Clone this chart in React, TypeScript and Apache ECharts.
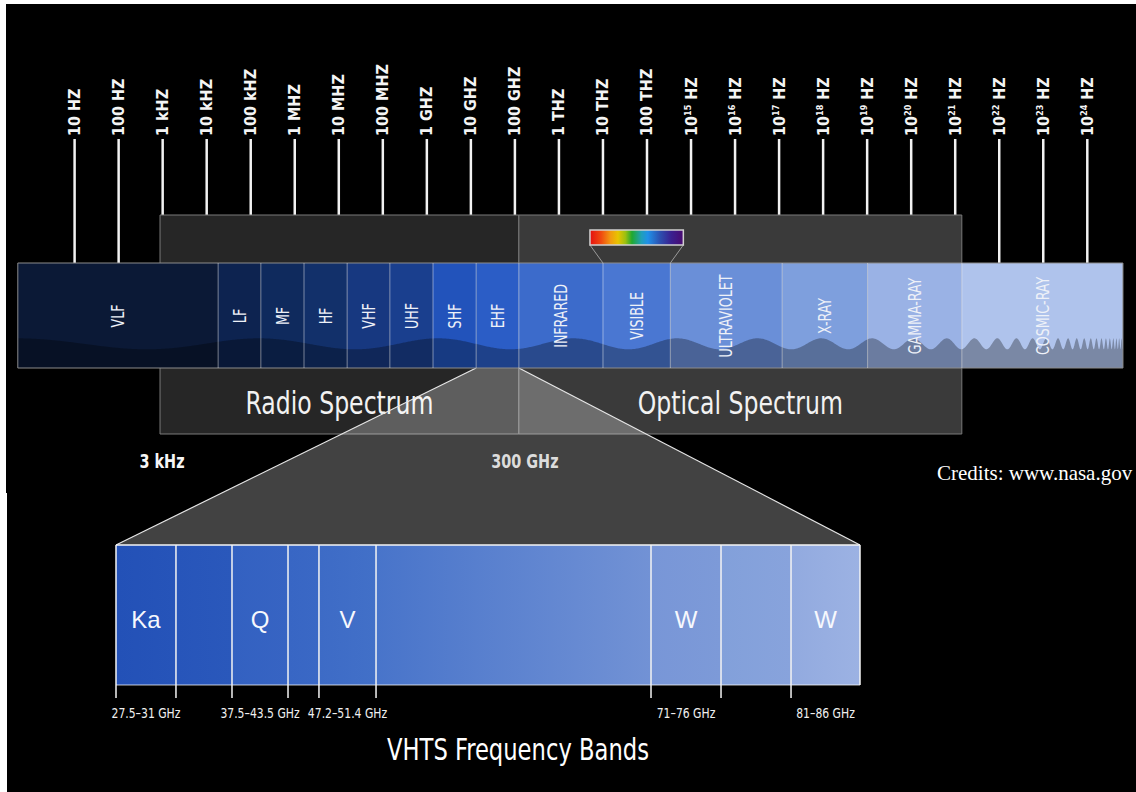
import React, { useEffect, useRef } from 'react';
import * as echarts from 'echarts';

// ---------------- data ----------------
// top frequency scale, positions in log10(Hz)
const tickValues = [1, 2, 3, 4, 5, 6, 7, 8, 9, 10, 11, 12, 13, 14, 15, 16, 17, 18, 19, 20, 21, 22, 23, 24];
const tickLabels = [
  '10 HZ', '100 HZ', '1 kHZ', '10 kHZ', '100 kHZ', '1 MHZ', '10 MHZ', '100 MHZ',
  '1 GHZ', '10 GHZ', '100 GHZ', '1 THZ', '10 THZ', '100 THZ',
  '10{sup|15} HZ', '10{sup|16} HZ', '10{sup|17} HZ', '10{sup|18} HZ', '10{sup|19} HZ',
  '10{sup|20} HZ', '10{sup|21} HZ', '10{sup|22} HZ', '10{sup|23} HZ', '10{sup|24} HZ',
];
// spectrum bands (edges on the same log10(Hz) scale, as drawn in the picture)
const bandNames = ['VLF', 'LF', 'MF', 'HF', 'VHF', 'UHF', 'SHF', 'EHF', 'INFRARED', 'VISIBLE', 'ULTRAVIOLET', 'X-RAY', 'GAMMA-RAY', 'COSMIC-RAY'];
const bandEdges = [-0.29, 4.26, 5.23, 6.21, 7.19, 8.16, 9.14, 10.12, 11.09, 13.0, 14.53, 17.07, 19.01, 21.15, 24.81];
// spectrum groups
const spectrumNames = ['Radio Spectrum', 'Optical Spectrum'];
const spectrumEdges = [2.94, 11.09, 21.15];
const spectrumEdgeLabels = ['3 kHz', '300 GHz'];
const zoomedBand = 'EHF';
const visibleBand = 'VISIBLE';
// VHTS bands (edges on a schematic 0-100 scale of the zoom panel)
const vhtsNames = ['Ka', '', 'Q', '', 'V', '', 'W', '', 'W'];
const vhtsRanges = ['27.5–31 GHz', '', '37.5–43.5 GHz', '', '47.2–51.4 GHz', '', '71–76 GHz', '', '81–86 GHz'];
const vhtsEdges = [0, 8.06, 15.59, 23.12, 27.28, 34.95, 71.91, 81.32, 90.73, 100];
const titleText = 'VHTS Frequency Bands';
const creditsText = 'Credits: www.nasa.gov';

// ---------------- styles / layout ----------------
const W = 1136;
const H = 792;
const NARROW = '"Liberation Sans Narrow", "DejaVu Sans Condensed", "Arial Narrow", sans-serif';
const BAND_COLORS = ['#0b1936', '#0d2350', '#0f2a5d', '#12306a', '#173880', '#1a3f8e', '#2253bb', '#2b5dc6', '#3c6bcb', '#4a77d2', '#6a8fd8', '#7e9fdd', '#9ab2e5', '#afc3ec'];
const BOX_COLORS = ['#262626', '#3a3a3a'];
const VHTS_COLORS = [
  ['#2351b7', '#2654b9'], ['#2755ba', '#2a58bb'], ['#3361c1', '#3764c3'], ['#3866c4', '#3a68c5'],
  ['#3d6bc6', '#4270c8'], ['#4874ca', '#7292d5'], ['#7896d7', '#7d9ad8'], ['#82a0da', '#88a3dc'], ['#92aadf', '#9cb2e3'],
];
const TOP_GRID = { left: 74.6, top: 263, width: 1012.7, height: 105 };
const VHTS_GRID = { left: 116, top: 545, width: 744, height: 140 };

function txt(x: number, y: number, text: string, font: string, fill: string, extra: any = {}) {
  return {
    type: 'text', x, y, ...extra,
    style: { text, font, fill, align: 'center', verticalAlign: 'middle', textAlign: 'center', textVerticalAlign: 'middle' },
  };
}

function buildOption(): any {
  const bandData = bandNames.map((_, i) => [bandEdges[i], bandEdges[i + 1], i]);
  const zi = bandNames.indexOf(zoomedBand);
  const vi = bandNames.indexOf(visibleBand);

  const series: any[] = [
    // frequency tick lines
    {
      type: 'custom', xAxisIndex: 0, yAxisIndex: 0, z: 0, encode: { x: 0 },
      data: tickValues.map((v) => [v]),
      renderItem: (params: any, api: any) => {
        const [x, top] = api.coord([api.value(0), 1]);
        return { type: 'line', shape: { x1: x, y1: top - 124, x2: x, y2: top }, style: { stroke: '#f2f2f2', lineWidth: 2.5 } };
      },
    },
    // spectrum boxes
    {
      type: 'custom', xAxisIndex: 0, yAxisIndex: 0, z: 1, encode: { x: [0, 1] },
      data: spectrumNames.map((_, i) => [spectrumEdges[i], spectrumEdges[i + 1], i]),
      renderItem: (params: any, api: any) => {
        const i = api.value(2);
        const [x0, top] = api.coord([api.value(0), 1]);
        const [x1, bottom] = api.coord([api.value(1), 0]);
        return {
          type: 'group',
          children: [
            { type: 'rect', shape: { x: x0, y: top - 48, width: x1 - x0, height: bottom - top + 114 }, style: { fill: BOX_COLORS[i], stroke: '#7a7a7a', lineWidth: 1 } },
            txt((x0 + x1) / 2, bottom + 35, spectrumNames[i], `32px ${NARROW}`, '#f2f2f2', { scaleX: 0.82 }),
          ],
        };
      },
    },
    // zoom trapezoid
    {
      type: 'custom', xAxisIndex: 0, yAxisIndex: 0, z: 3, encode: { x: [0, 1] },
      data: [[bandEdges[zi], bandEdges[zi + 1]]],
      renderItem: (params: any, api: any) => {
        const [x0, y0] = api.coord([api.value(0), 0]);
        const [x1] = api.coord([api.value(1), 0]);
        const L = VHTS_GRID.left, R = VHTS_GRID.left + VHTS_GRID.width, T = VHTS_GRID.top;
        return {
          type: 'group',
          children: [
            { type: 'polygon', shape: { points: [[x0, y0], [x1, y0], [R, T], [L, T]] }, style: { fill: 'rgba(255,255,255,0.26)' } },
            { type: 'line', shape: { x1: x0, y1: y0, x2: L, y2: T }, style: { stroke: '#e6e6e6', lineWidth: 1.2 } },
            { type: 'line', shape: { x1: x1, y1: y0, x2: R, y2: T }, style: { stroke: '#e6e6e6', lineWidth: 1.2 } },
          ],
        };
      },
    },
    // edge labels of radio spectrum
    {
      type: 'custom', xAxisIndex: 0, yAxisIndex: 0, z: 6, encode: { x: 0 },
      data: spectrumEdgeLabels.map((_, i) => [spectrumEdges[i], i]),
      renderItem: (params: any, api: any) => {
        const i = api.value(1);
        const [x, bottom] = api.coord([api.value(0), 0]);
        return txt(x + (i === 0 ? 2 : 6), bottom + 93, spectrumEdgeLabels[i], `bold 20px ${NARROW}`, i === 0 ? '#f6f6f6' : '#dcdcdc', { scaleX: 0.8 });
      },
    },
    // band rectangles
    {
      type: 'custom', xAxisIndex: 0, yAxisIndex: 0, z: 4, encode: { x: [0, 1] },
      data: bandData,
      renderItem: (params: any, api: any) => {
        const i = api.value(2);
        const [x0, top] = api.coord([api.value(0), 1]);
        const [x1, bottom] = api.coord([api.value(1), 0]);
        return { type: 'rect', shape: { x: x0, y: top, width: x1 - x0, height: bottom - top }, style: { fill: BAND_COLORS[i] } };
      },
    },
    // wave overlay + frame
    {
      type: 'custom', xAxisIndex: 0, yAxisIndex: 0, z: 5, encode: { x: [0, 1] },
      data: [[bandEdges[0], bandEdges[bandEdges.length - 1]]],
      renderItem: (params: any, api: any) => {
        const [x0, top] = api.coord([api.value(0), 1]);
        const [x1, bottom] = api.coord([api.value(1), 0]);
        const cy = top + 80.8, A = 5.5, R = x1 + 27;
        const K = 691;
        const ref = K * Math.pow(R - (x1 - 446), -0.3);
        const pts: number[][] = [];
        let x = x0;
        while (x <= x1) {
          const ph = K * Math.pow(R - x, -0.3) - ref;
          pts.push([x, cy - A * Math.cos(ph)]);
          x += x1 - x < 120 ? 0.25 : 1;
        }
        pts.push([x1, cy - A * Math.cos(K * Math.pow(R - x1, -0.3) - ref)]);
        pts.push([x1, bottom], [x0, bottom]);
        return {
          type: 'group',
          children: [
            { type: 'polygon', shape: { points: pts }, style: { fill: 'rgba(0,0,0,0.3)' } },
            { type: 'rect', shape: { x: x0, y: top, width: x1 - x0, height: bottom - top }, style: { fill: 'none', stroke: '#8c8c8c', lineWidth: 1 } },
          ],
        };
      },
    },
    // band separators + labels
    {
      type: 'custom', xAxisIndex: 0, yAxisIndex: 0, z: 6, encode: { x: [0, 1] },
      data: bandData,
      renderItem: (params: any, api: any) => {
        const i = api.value(2);
        const [x0, top] = api.coord([api.value(0), 1]);
        const [x1, bottom] = api.coord([api.value(1), 0]);
        const children: any[] = [];
        if (i > 0) children.push({ type: 'line', shape: { x1: x0, y1: top, x2: x0, y2: bottom }, style: { stroke: 'rgba(255,255,255,0.45)', lineWidth: 1 } });
        children.push(txt((x0 + x1) / 2, top + 53, bandNames[i], `18px ${NARROW}`, '#eef1f8', { rotation: Math.PI / 2, scaleX: 0.78 }));
        return { type: 'group', children };
      },
    },
    // visible rainbow
    {
      type: 'custom', xAxisIndex: 0, yAxisIndex: 0, z: 7, encode: { x: [0, 1] },
      data: [[bandEdges[vi], bandEdges[vi + 1]]],
      renderItem: (params: any, api: any) => {
        const [x0, top] = api.coord([api.value(0), 1]);
        const [x1] = api.coord([api.value(1), 1]);
        const rx0 = x0 - 13, rx1 = x1 + 13;
        const grad = new echarts.graphic.LinearGradient(0, 0, 1, 0, [
          { offset: 0, color: '#e51010' }, { offset: 0.12, color: '#f04a10' }, { offset: 0.22, color: '#f29a10' },
          { offset: 0.3, color: '#e8c400' }, { offset: 0.38, color: '#9cc010' }, { offset: 0.45, color: '#20a830' },
          { offset: 0.55, color: '#20a0b8' }, { offset: 0.62, color: '#2090e8' }, { offset: 0.75, color: '#2c50b0' },
          { offset: 0.87, color: '#3a2090' }, { offset: 1, color: '#4a0a70' },
        ]);
        return {
          type: 'group',
          children: [
            { type: 'line', shape: { x1: rx0, y1: top - 18, x2: x0, y2: top }, style: { stroke: '#9a9a9a', lineWidth: 1 } },
            { type: 'line', shape: { x1: rx1, y1: top - 18, x2: x1, y2: top }, style: { stroke: '#9a9a9a', lineWidth: 1 } },
            { type: 'rect', shape: { x: rx0, y: top - 33, width: rx1 - rx0, height: 15 }, style: { fill: grad, stroke: '#d0d0d0', lineWidth: 1.5 } },
          ],
        };
      },
    },
    // VHTS bands
    {
      type: 'custom', xAxisIndex: 1, yAxisIndex: 1, z: 4, encode: { x: [0, 1] },
      data: vhtsNames.map((_, i) => [vhtsEdges[i], vhtsEdges[i + 1], i]),
      renderItem: (params: any, api: any) => {
        const i = api.value(2);
        const [x0, top] = api.coord([api.value(0), 1]);
        const [x1, bottom] = api.coord([api.value(1), 0]);
        const last = i === vhtsNames.length - 1;
        const grad = new echarts.graphic.LinearGradient(0, 0, 1, 0, [
          { offset: 0, color: VHTS_COLORS[i][0] }, { offset: 1, color: VHTS_COLORS[i][1] },
        ]);
        const children: any[] = [
          { type: 'rect', shape: { x: x0, y: top, width: x1 - x0, height: bottom - top }, style: { fill: grad } },
          { type: 'line', shape: { x1: x0, y1: top, x2: x1, y2: top }, style: { stroke: '#f4f4f4', lineWidth: 1.5 } },
          { type: 'line', shape: { x1: x0, y1: bottom, x2: x1, y2: bottom }, style: { stroke: 'rgba(255,255,255,0.75)', lineWidth: 1 } },
          { type: 'line', shape: { x1: x0, y1: top, x2: x0, y2: bottom + 13 }, style: { stroke: '#f4f4f4', lineWidth: 1.5 } },
        ];
        if (last) children.push({ type: 'line', shape: { x1: x1, y1: top, x2: x1, y2: bottom }, style: { stroke: '#f4f4f4', lineWidth: 1.5 } });
        if (vhtsNames[i]) children.push(txt((x0 + x1) / 2, (top + bottom) / 2 + 4, vhtsNames[i], '24px "Liberation Sans", Arial, sans-serif', '#f6f8fd'));
        if (vhtsRanges[i]) children.push(txt((x0 + x1) / 2, bottom + 28, vhtsRanges[i], `14px ${NARROW}`, '#f0f0f0', { scaleX: 0.86 }));
        return { type: 'group', children };
      },
    },
  ];

  return {
    animation: false,
    backgroundColor: '#000000',
    grid: [
      { left: TOP_GRID.left, top: TOP_GRID.top, width: TOP_GRID.width, height: TOP_GRID.height, containLabel: false, outerBoundsMode: 'none' },
      { left: VHTS_GRID.left, top: VHTS_GRID.top, width: VHTS_GRID.width, height: VHTS_GRID.height, containLabel: false, outerBoundsMode: 'none' },
    ],
    xAxis: [
      {
        gridIndex: 0, type: 'value', min: 1, max: 24, interval: 1, position: 'top',
        axisLine: { show: false },
        axisTick: { show: false },
        splitLine: { show: false },
        axisLabel: {
          show: true, rotate: 90, margin: 127, color: '#f4f4f4', fontFamily: NARROW, fontWeight: 'bold', fontSize: 16,
          hideOverlap: false,
          formatter: (v: number) => {
            const i = tickValues.indexOf(Math.round(v));
            return i >= 0 ? tickLabels[i] : '';
          },
          rich: { sup: { fontSize: 9, fontWeight: 'bold', fontFamily: NARROW, color: '#f4f4f4', verticalAlign: 'top' } },
        },
      },
      { gridIndex: 1, type: 'value', min: 0, max: 100, show: false },
    ],
    yAxis: [
      { gridIndex: 0, type: 'value', min: 0, max: 1, show: false },
      { gridIndex: 1, type: 'value', min: 0, max: 1, show: false },
    ],
    graphic: [
      { type: 'rect', shape: { x: 0, y: 0, width: 6, height: 493 }, style: { fill: '#ffffff' }, z: 100 },
      { type: 'rect', shape: { x: 0, y: 493, width: 7, height: H - 493 }, style: { fill: '#ffffff' }, z: 100 },
      { type: 'rect', shape: { x: 0, y: 0, width: W, height: 4 }, style: { fill: '#ffffff' }, z: 100 },
      { type: 'text', x: 937, y: 473, z: 100, style: { text: creditsText, fill: '#ffffff', font: '21px "Liberation Serif", "DejaVu Serif", serif', align: 'left', verticalAlign: 'middle', textAlign: 'left', textVerticalAlign: 'middle' } },
      { type: 'text', x: 518, y: 750, z: 100, scaleX: 0.84, style: { text: titleText, fill: '#ffffff', font: `30px ${NARROW}`, align: 'center', verticalAlign: 'middle', textAlign: 'center', textVerticalAlign: 'middle' } },
    ],
    series,
  };
}

export default function App() {
  const ref = useRef<HTMLDivElement>(null);
  useEffect(() => {
    if (!ref.current) return;
    const chart = echarts.init(ref.current, null, { renderer: 'svg', width: W, height: H });
    chart.setOption(buildOption());
    return () => chart.dispose();
  }, []);
  return (
    <div style={{ position: 'fixed', left: 0, top: 0, width: W, height: H, background: '#fff' }}>
      <div ref={ref} style={{ width: W, height: H }} />
    </div>
  );
}
